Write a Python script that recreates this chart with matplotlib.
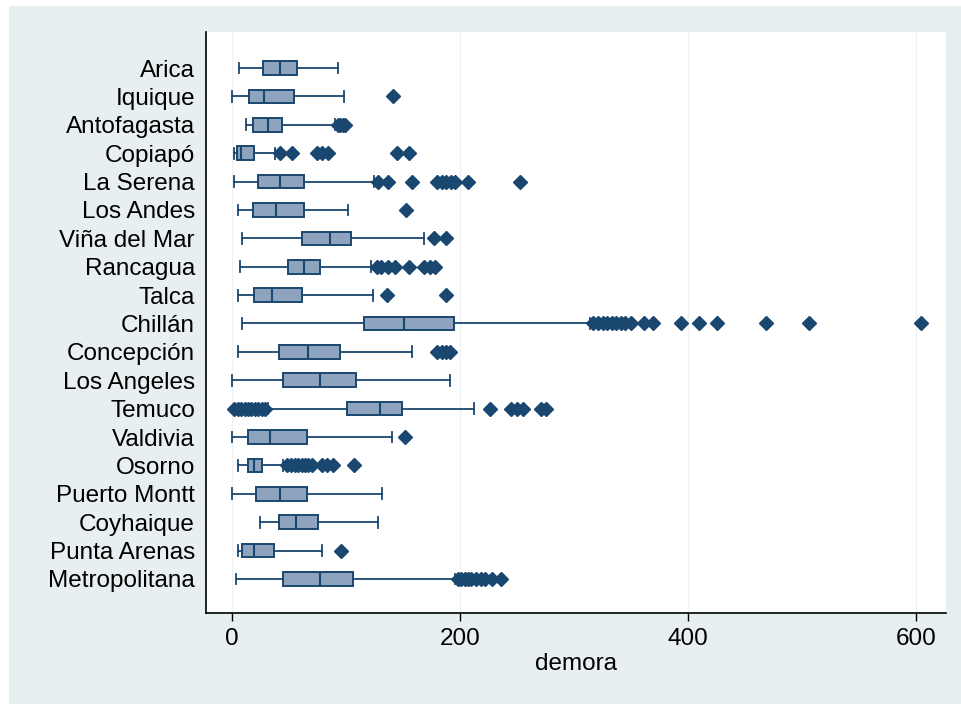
import matplotlib
matplotlib.use("Agg")
import matplotlib.pyplot as plt
from matplotlib.patches import Rectangle

regions = ["Arica", "Iquique", "Antofagasta", "Copiapó", "La Serena", "Los Andes",
           "Viña del Mar", "Rancagua", "Talca", "Chillán", "Concepción", "Los Angeles",
           "Temuco", "Valdivia", "Osorno", "Puerto Montt", "Coyhaique", "Punta Arenas",
           "Metropolitana"]

whis_lo = [6, 0, 12, 2, 1.5, 5, 8.5, 7, 5.5, 8.5, 5, 0, 32, 0, 5, 0, 24.5, 5, 3.5]
q1      = [27.5, 15, 18.5, 4.5, 22.5, 18.5, 61, 49, 19, 115.5, 41.5, 45, 101, 14, 14, 21, 41.5, 8.5, 45]
median  = [42, 28, 31.5, 8, 42, 38.5, 86, 63.5, 35, 151, 67, 77, 130, 33, 19, 42, 56, 19, 77]
q3      = [57, 54.5, 44, 19.5, 63.5, 63.5, 104, 77.5, 61.5, 195, 95, 109, 149.5, 65.5, 26.5, 65.5, 75.5, 37, 106]
whis_hi = [93, 98, 90, 38, 125, 101.5, 168, 122, 124, 314, 158, 191, 212, 140.5, 45, 132, 128, 79, 196]
outliers = [
    [],
    [141],
    [93, 95, 97, 99],
    [42, 53, 75, 79, 84, 145, 155],
    [128, 137, 158, 180, 184, 188, 192, 196, 207, 253],
    [153],
    [177, 188],
    [127, 131, 137, 143, 155, 168, 174, 178],
    [136, 188],
    [317, 321, 325, 329, 333, 337, 341, 345, 350, 361, 369, 394, 410, 425, 468, 506, 604],
    [180, 184, 188, 191],
    [],
    [2, 5, 8, 11, 14, 17, 20, 23, 26, 29, 226, 245, 250, 255, 271, 275],
    [152],
    [48, 52, 55, 58, 61, 64, 67, 70, 79, 83, 89, 107],
    [],
    [],
    [96],
    [198, 201, 204, 207, 210, 214, 218, 222, 228, 236],
]
x_ticks = [0, 200, 400, 600]
x_label = "demora"

navy = "#1a476f"
box_fill = "#8ea3be"
outer_bg = "#e8eff1"
fs = 17.5
fam = "Liberation Sans"

fig = plt.figure(figsize=(9.61, 7.04), dpi=100)
fig.patch.set_facecolor("white")
fig.patches.append(Rectangle((9 / 961, 0), 1 - 9 / 961, 1 - 6 / 704,
                             transform=fig.transFigure, facecolor=outer_bg,
                             edgecolor="none", zorder=-10))

ax = fig.add_axes([206 / 961, 1 - 613 / 704, (946 - 206) / 961, (613 - 32) / 704])
ax.set_facecolor("white")

stats = []
for i, name in enumerate(regions):
    stats.append(dict(label=name, whislo=whis_lo[i], q1=q1[i], med=median[i],
                      q3=q3[i], whishi=whis_hi[i], fliers=outliers[i]))

positions = list(range(1, len(regions) + 1))
ax.bxp(stats, positions=positions, vert=False, widths=0.48, patch_artist=True,
       capwidths=0.38,
       boxprops=dict(facecolor=box_fill, edgecolor=navy, linewidth=1.4),
       medianprops=dict(color=navy, linewidth=1.5),
       whiskerprops=dict(color=navy, linewidth=1.3),
       capprops=dict(color=navy, linewidth=1.3),
       flierprops=dict(marker="D", markersize=7.5, markerfacecolor=navy,
                       markeredgecolor=navy, linestyle="none"))

ax.set_xlim(-22.8, 626.3)
ax.set_ylim(20.2, -0.27)
ax.set_xticks(x_ticks)
ax.set_xticklabels([str(t) for t in x_ticks], fontsize=fs, family=fam)
ax.set_yticks(positions)
ax.set_yticklabels(regions, fontsize=fs, family=fam)
ax.tick_params(axis="y", length=0, pad=8)
ax.tick_params(axis="x", length=6, width=1, direction="out", pad=5)
for t in x_ticks:
    ax.axvline(t, color="#eef2f4", linewidth=1, zorder=0)
ax.set_xlabel(x_label, fontsize=fs, family=fam, labelpad=2)
for s in ["top", "right"]:
    ax.spines[s].set_visible(False)
ax.spines["left"].set_linewidth(1.2)
ax.spines["bottom"].set_linewidth(1.2)

fig.savefig("out.png", dpi=100)
